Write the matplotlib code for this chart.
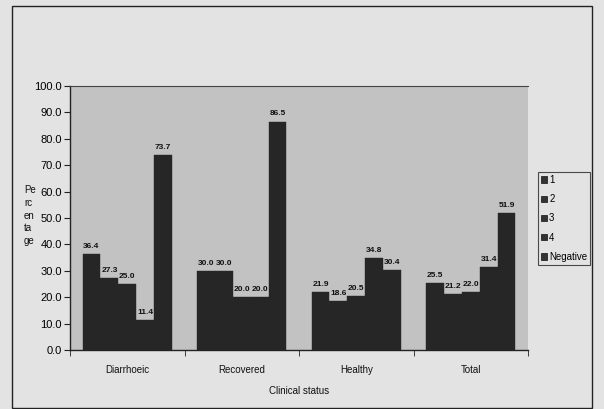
import matplotlib
matplotlib.use("Agg")
import matplotlib.pyplot as plt
from matplotlib.patches import Rectangle, Patch
import numpy as np

categories = ["Diarrhoeic", "Recovered", "Healthy", "Total"]
series_names = ["1", "2", "3", "4", "Negative"]
values = {
    "1": [36.4, 30.0, 21.9, 25.5],
    "2": [27.3, 30.0, 18.6, 21.2],
    "3": [25.0, 20.0, 20.5, 22.0],
    "4": [11.4, 20.0, 34.8, 31.4],
    "Negative": [73.7, 86.5, 30.4, 51.9],
}
yticks = np.arange(0, 101, 10)

plt.rcParams['font.family'] = ['Liberation Sans', 'DejaVu Sans']

fig = plt.figure(figsize=(6.04, 4.09), dpi=100, facecolor="#e3e3e3")
# outer frame
fig.patches.append(Rectangle((12/604, 1/409), 580/604, 402/409, transform=fig.transFigure,
                             fill=False, edgecolor="#222222", linewidth=1.0, zorder=0))

ax = fig.add_axes([70/604, 1-350/409, (528-70)/604, (350-86)/409])
ax.set_facecolor("#c2c2c2")

n = len(series_names)
group_w = 0.78
bw = group_w / n
x = np.arange(len(categories))
bar_color = "#262626"
for i, s in enumerate(series_names):
    pos = x - group_w/2 + bw*(i+0.5)
    bars = ax.bar(pos, values[s], width=bw, color=bar_color, edgecolor=bar_color, linewidth=0.3, zorder=3)
    ax.bar_label(bars, labels=[f"{v:.1f}" for v in values[s]], padding=3, fontsize=6,
                 color="#111111", fontweight="semibold")

ax.set_xlim(-0.5, len(categories)-0.5)
ax.set_ylim(0, 100)
ax.set_yticks(yticks)
ax.set_yticklabels([f"{v:.1f}" for v in yticks], fontsize=8, color="#000000")
ax.set_xticks(x)
ax.set_xticklabels(categories, fontsize=7, color="#111111")
ax.tick_params(axis='x', length=0, pad=11)
ax.set_xticks(np.arange(len(categories)+1) - 0.5, minor=True)
ax.tick_params(axis='x', which='minor', length=4, direction='out', color="#222222")
ax.tick_params(axis='y', length=4, direction='out', color="#222222", pad=2)

for sp in ["left", "bottom"]:
    ax.spines[sp].set_color("#222222")
    ax.spines[sp].set_linewidth(1.0)
ax.spines["right"].set_visible(False)
ax.spines["top"].set_linestyle((0, (1, 1)))
ax.spines["top"].set_color("#444444")
ax.spines["top"].set_linewidth(0.8)

ax.set_xlabel("Clinical status", fontsize=7, color="#111111", labelpad=8)
fig.text(24/604, 1-185/409, "Pe\nrc\nen\nta\nge", fontsize=7, color="#111111",
         va="top", ha="left", linespacing=1.35)

handles = [Patch(facecolor="#333333", edgecolor="#111111", linewidth=0.5) for _ in series_names]
leg = fig.legend(handles, series_names, loc="upper left", bbox_to_anchor=(538/604, 1-172/409),
                 bbox_transform=fig.transFigure, fontsize=7, frameon=True, fancybox=False,
                 handlelength=0.6, handleheight=0.6, handletextpad=0.25, labelspacing=0.95,
                 borderpad=0.3, borderaxespad=0)
leg.get_frame().set_edgecolor("#222222")
leg.get_frame().set_facecolor("#e3e3e3")
leg.get_frame().set_linewidth(0.8)

fig.savefig("out.png", dpi=100, facecolor=fig.get_facecolor())
